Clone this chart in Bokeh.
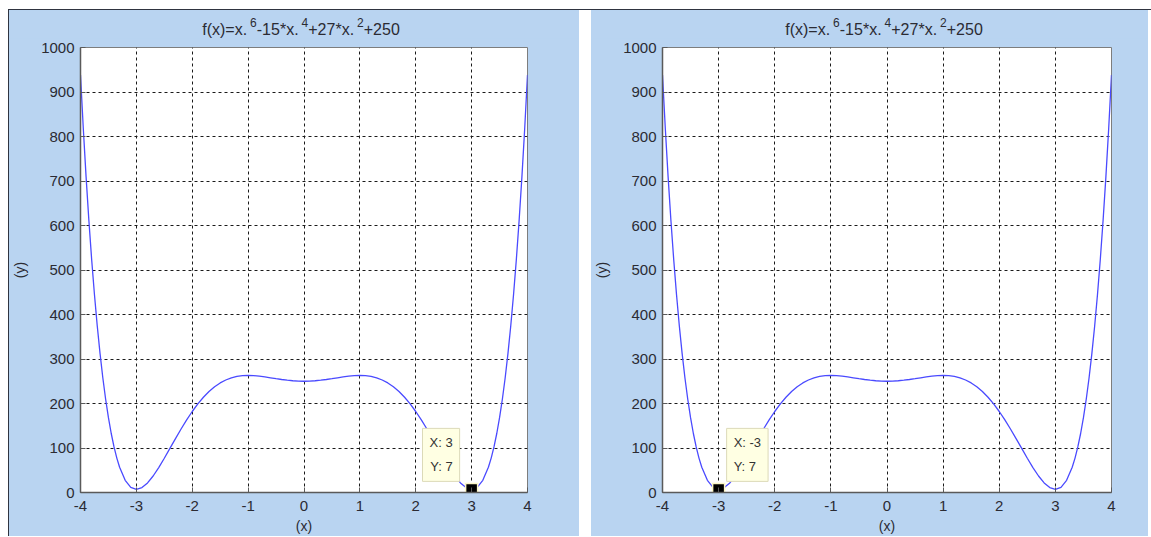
from bokeh.plotting import figure
from bokeh.models import Label, FixedTicker, Range1d, Spacer
from bokeh.layouts import row, column
from bokeh.embed import file_html
from bokeh.resources import INLINE

# ---- data ----
x_vals = [-4.0, -3.95, -3.9, -3.85, -3.8, -3.75, -3.7, -3.65, -3.6, -3.55, -3.5, -3.45, -3.4, -3.35,
          -3.3, -3.2, -3.1, -3.0, -2.9, -2.8, -2.7, -2.6, -2.5, -2.4, -2.3, -2.2, -2.1, -2.0,
          -1.9, -1.8, -1.7, -1.6, -1.5, -1.4, -1.3, -1.2, -1.1, -1.0, -0.9, -0.8, -0.7, -0.6,
          -0.5, -0.4, -0.3, -0.2, -0.1, 0.0, 0.1, 0.2, 0.3, 0.4, 0.5, 0.6, 0.7, 0.8, 0.9, 1.0,
          1.1, 1.2, 1.3, 1.4, 1.5, 1.6, 1.7, 1.8, 1.9, 2.0, 2.1, 2.2, 2.3, 2.4, 2.5, 2.6, 2.7,
          2.8, 2.9, 3.0, 3.1, 3.2, 3.3, 3.35, 3.4, 3.45, 3.5, 3.55, 3.6, 3.65, 3.7, 3.75, 3.8,
          3.85, 3.9, 3.95, 4.0]
y_vals = [938.0, 817.9, 709.3, 611.2, 523.1, 444.3, 374.1, 312.0, 257.3, 209.5, 168.1, 132.6, 102.4, 77.3,
          56.6, 27.4, 11.7, 7.0, 11.0, 21.6, 37.1, 56.0, 77.0, 99.0, 121.1, 142.7, 163.1, 182.0,
          199.0, 214.0, 226.9, 237.6, 246.2, 252.8, 257.6, 260.8, 262.5, 263.0, 262.6, 261.4, 259.7, 257.8,
          255.8, 253.9, 252.3, 251.1, 250.3, 250.0, 250.3, 251.1, 252.3, 253.9, 255.8, 257.8, 259.7, 261.4, 262.6, 263.0,
          262.5, 260.8, 257.6, 252.8, 246.2, 237.6, 226.9, 214.0, 199.0, 182.0, 163.1, 142.7, 121.1, 99.0, 77.0, 56.0, 37.1,
          21.6, 11.0, 7.0, 11.7, 27.4, 56.6, 77.3, 102.4, 132.6, 168.1, 209.5, 257.3, 312.0, 374.1, 444.3, 523.1,
          611.2, 709.3, 817.9, 938.0]
# title "f(x)=x.^6-15*x.^4+27*x.^2+250": (text, is_superscript)
title_parts = [("f(x)=x.", False), ("6", True), ("-15*x.", False), ("4", True),
               ("+27*x.", False), ("2", True), ("+250", False)]
x_ticks = [-4, -3, -2, -1, 0, 1, 2, 3, 4]
y_ticks = [0, 100, 200, 300, 400, 500, 600, 700, 800, 900, 1000]
x_label = "(x)"
y_label = "(y)"
tip_x = [3, -3]
tip_y = [7, 7]

BG = "#b9d4f1"
FONT = "Liberation Sans"
TXT = "#2b2b33"
BASE_PX = 16
SUP_PX = 12
SUP_GAP = 3
TITLE_H = 28

# Arial / Liberation Sans advance widths (em)
_W = {"f": 0.278, "(": 0.333, ")": 0.333, "x": 0.5, "=": 0.584, ".": 0.278, "-": 0.333,
      "*": 0.389, "+": 0.584}


def text_w(s, px):
    return sum(_W.get(c, 0.556) for c in s) * px


def title_strip(width, left, right):
    fw = width - left - right
    tf = figure(width=width, height=TITLE_H, title=None,
                x_range=Range1d(-fw / 2, fw / 2), y_range=Range1d(0, TITLE_H),
                output_backend="svg", toolbar_location=None,
                x_axis_location=None, y_axis_location=None,
                min_border_left=left, min_border_right=right, min_border_top=0, min_border_bottom=0)
    tf.border_fill_color = BG
    tf.background_fill_color = BG
    tf.outline_line_color = None
    tf.xgrid.visible = False
    tf.ygrid.visible = False
    widths = []
    for s, sup in title_parts:
        widths.append(text_w(s, SUP_PX) + SUP_GAP if sup else text_w(s, BASE_PX))
    off = -sum(widths) / 2 - 3
    for (s, sup), w in zip(title_parts, widths):
        tf.add_layout(Label(x=off + (SUP_GAP if sup else 0), y=16 if sup else 9.5, text=s,
                            text_align="left", text_baseline="middle",
                            text_font=FONT, text_font_size=f"{SUP_PX if sup else BASE_PX}px",
                            text_color=TXT))
        off += w
    return tf


def make_panel(width, height, left, right, bottom, tx, ty, tip_side):
    p = figure(width=width, height=height - TITLE_H, title=None,
               x_range=Range1d(x_ticks[0], x_ticks[-1]),
               y_range=Range1d(y_ticks[0], y_ticks[-1]),
               output_backend="svg", toolbar_location=None,
               min_border_left=left, min_border_right=right,
               min_border_top=9, min_border_bottom=bottom)
    p.border_fill_color = BG
    p.background_fill_color = "white"
    p.outline_line_color = "#7d7d7d"
    p.outline_line_width = 1

    for ax, ticks, lab in ((p.xaxis[0], x_ticks, x_label), (p.yaxis[0], y_ticks, y_label)):
        ax.ticker = FixedTicker(ticks=ticks)
        ax.major_label_overrides = {t: str(t) for t in ticks}
        ax.major_label_text_font = FONT
        ax.major_label_text_font_size = "15px"
        ax.major_label_text_color = TXT
        ax.axis_line_color = "#5a5a5a"
        ax.axis_line_width = 1.5
        ax.major_tick_in = 5
        ax.major_tick_out = 0
        ax.major_tick_line_color = "#5a5a5a"
        ax.minor_tick_line_color = None
        ax.axis_label = lab
        ax.axis_label_text_font = FONT
        ax.axis_label_text_font_size = "14px"
        ax.axis_label_text_font_style = "normal"
        ax.axis_label_text_color = TXT
    p.xaxis.major_label_standoff = 8
    p.xaxis.axis_label_standoff = 4
    p.yaxis.major_label_standoff = 6
    p.yaxis.axis_label_standoff = 10

    p.xgrid.ticker = FixedTicker(ticks=x_ticks[1:-1])
    p.ygrid.ticker = FixedTicker(ticks=y_ticks[1:-1])
    for g in (p.xgrid[0], p.ygrid[0]):
        g.grid_line_color = "#1a1a1a"
        g.grid_line_dash = "3 3"
        g.grid_line_width = 1
        g.grid_line_alpha = 1.0

    p.line(x_vals, y_vals, line_color="#4a4aff", line_width=1.3)

    p.scatter([tx], [ty], marker="square", size=12, fill_color="black",
              line_color="#fbf6c8", line_width=1.5)
    if tip_side == "left":
        lab = Label(x=tx, y=ty, x_offset=-12, y_offset=8, text_align="right", text_baseline="bottom")
    else:
        lab = Label(x=tx, y=ty, x_offset=8, y_offset=8, text_align="left", text_baseline="bottom")
    lab.text = f"X: {tx}\nY: {ty}"
    lab.text_font = FONT
    lab.text_font_size = "13px"
    lab.text_color = "#333333"
    lab.text_line_height = 1.6
    lab.background_fill_color = "#ffffe3"
    lab.border_line_color = "#dcdab8"
    lab.border_line_width = 1
    lab.padding = 7
    p.add_layout(lab)

    return column(title_strip(width, left, right), p, styles={"background-color": BG})


H = 526
panel1 = make_panel(570, H, 71, 52, 44, tip_x[0], tip_y[0], "left")
panel2 = make_panel(557, H, 71, 37, 44, tip_x[1], tip_y[1], "right")

dark = {"background-color": "#2f3440"}
top_line = row(Spacer(width=8, height=1), Spacer(width=1143, height=1, styles=dark))
body = row(Spacer(width=8, height=H), Spacer(width=1, height=H, styles=dark),
           panel1, Spacer(width=12, height=H), panel2)
layout = column(Spacer(width=10, height=9), top_line, body)

open("out.html", "w").write(file_html(layout, INLINE))
